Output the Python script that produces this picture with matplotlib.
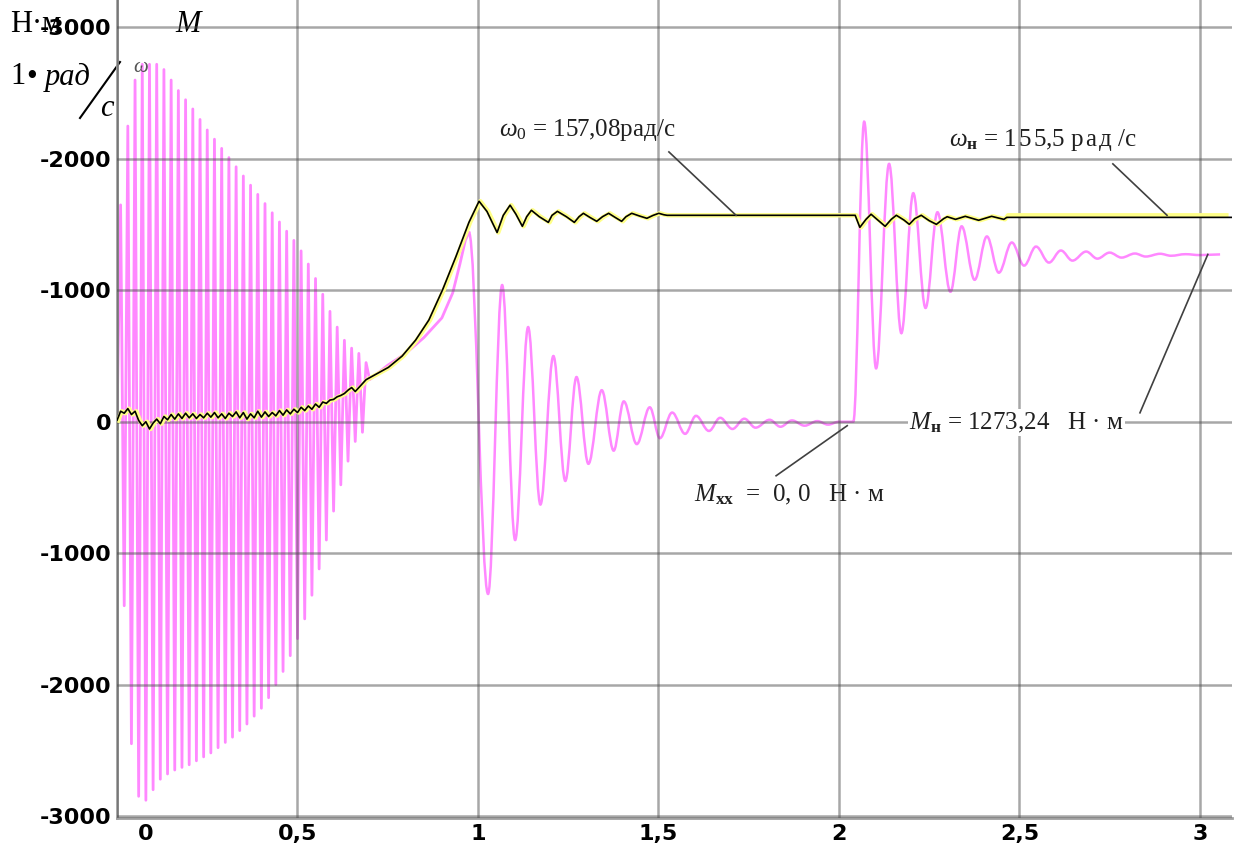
import numpy as np
import matplotlib
matplotlib.use("Agg")
import matplotlib.pyplot as plt
from matplotlib.path import Path
from matplotlib.patches import PathPatch
from matplotlib import transforms

plt.rcParams['mathtext.fontset'] = 'custom'
plt.rcParams['mathtext.rm'] = 'Liberation Serif'
plt.rcParams['mathtext.it'] = 'Liberation Serif:italic'
plt.rcParams['mathtext.bf'] = 'Liberation Serif:bold'

# --- момент M(t): пуск, 50 Гц колебания (экстремумы по полупериодам)
m_osc_t = [0.00, 0.01, 0.02, 0.03, 0.04, 0.05, 0.06, 0.07, 0.08, 0.09,
           0.10, 0.11, 0.12, 0.13, 0.14, 0.15, 0.16, 0.17, 0.18, 0.19,
           0.20, 0.21, 0.22, 0.23, 0.24, 0.25, 0.26, 0.27, 0.28, 0.29,
           0.30, 0.31, 0.32, 0.33, 0.34, 0.35, 0.36, 0.37, 0.38, 0.39,
           0.40, 0.41, 0.42, 0.43, 0.44, 0.45, 0.46, 0.47, 0.48, 0.49,
           0.50, 0.51, 0.52, 0.53, 0.54, 0.55, 0.56, 0.57, 0.58, 0.59,
           0.60, 0.61, 0.62, 0.63, 0.64, 0.65, 0.66, 0.67, 0.68, 0.69]
m_osc_v = [0, 1650, -1400, 2250, -2450, 2600, -2850, 2720, -2880, 2720,
           -2800, 2720, -2720, 2680, -2680, 2600, -2650, 2520, -2630, 2450,
           -2610, 2380, -2580, 2300, -2550, 2220, -2520, 2150, -2480, 2080,
           -2440, 2010, -2400, 1940, -2350, 1870, -2300, 1800, -2240, 1730,
           -2180, 1660, -2100, 1590, -2000, 1520, -1900, 1450, -1780, 1380,
           -1650, 1300, -1500, 1200, -1320, 1090, -1120, 970, -900, 840,
           -680, 720, -480, 620, -300, 560, -150, 520, -80, 450]

# разгон до максимума момента
m_rise_t = [0.70, 0.75, 0.80, 0.85, 0.90, 0.93, 0.95, 0.965, 0.975]
m_rise_v = [320, 430, 520, 640, 790, 980, 1200, 1380, 1440]

# затухающие колебания после разгона и после наброса нагрузки (экстремумы)
m_tr_t = [0.975, 1.028, 1.067, 1.103, 1.139, 1.173, 1.209, 1.242, 1.273, 1.306,
          1.343, 1.376, 1.404, 1.44, 1.476, 1.504, 1.538, 1.574, 1.604, 1.64,
          1.671, 1.705, 1.738, 1.769, 1.808, 1.838, 1.87, 1.905, 1.94, 1.97,
          2.00, 2.04, 2.07, 2.103, 2.139, 2.173, 2.206, 2.24, 2.273, 2.309,
          2.34, 2.376, 2.41, 2.443, 2.479, 2.513, 2.546, 2.582, 2.615, 2.647,
          2.685, 2.716, 2.75, 2.783, 2.82, 2.85, 2.89, 2.92, 2.96, 3.0, 3.056]
m_tr_v = [1440, -1310, 1040, -900, 720, -630, 500, -450, 340, -320,
          240, -220, 155, -170, 110, -125, 70, -92, 45, -70,
          30, -55, 23, -45, 15, -38, 10, -30, 5, -22,
          0, 0, 2283, 406, 1962, 674, 1739, 866, 1594, 989,
          1487, 1080, 1410, 1134, 1364, 1188, 1333, 1211, 1303, 1226,
          1295, 1241, 1287, 1249, 1280, 1257, 1278, 1263, 1275, 1268, 1273.24]

# --- скорость (x10)
w_t = [0.00, 0.01, 0.02, 0.03, 0.04, 0.05, 0.06, 0.07, 0.08, 0.09,
       0.10, 0.11, 0.12, 0.13, 0.14, 0.15, 0.16, 0.17, 0.18, 0.19,
       0.20, 0.21, 0.22, 0.23, 0.24, 0.25, 0.26, 0.27, 0.28, 0.29,
       0.30, 0.31, 0.32, 0.33, 0.34, 0.35, 0.36, 0.37, 0.38, 0.39,
       0.40, 0.41, 0.42, 0.43, 0.44, 0.45, 0.46, 0.47, 0.48, 0.49,
       0.50, 0.51, 0.52, 0.53, 0.54, 0.55, 0.56, 0.57, 0.58, 0.59,
       0.60, 0.61, 0.62, 0.63, 0.64, 0.65, 0.66, 0.69, 0.752, 0.79,
       0.827, 0.864, 0.902, 0.939, 0.975, 1.003, 1.025, 1.053, 1.07, 1.089,
       1.105, 1.123, 1.135, 1.148, 1.17, 1.195, 1.205, 1.22, 1.245, 1.267,
       1.28, 1.292, 1.31, 1.329, 1.345, 1.362, 1.38, 1.398, 1.41, 1.426,
       1.448, 1.468, 1.485, 1.501, 1.515, 1.524, 2.045, 2.058, 2.075, 2.089,
       2.11, 2.128, 2.145, 2.159, 2.18, 2.195, 2.21, 2.228, 2.25, 2.27,
       2.29, 2.30, 2.323, 2.35, 2.387, 2.423, 2.457]
w_v = [10, 80, 65, 100, 55, 80, 10, -30, 0, -55,
       -10, 20, -15, 40, 15, 55, 20, 60, 25, 65,
       30, 60, 25, 55, 30, 65, 35, 70, 30, 60,
       25, 65, 40, 75, 30, 70, 20, 60, 30, 80,
       35, 75, 40, 70, 45, 85, 50, 90, 60, 95,
       70, 110, 85, 120, 95, 135, 110, 150, 140, 165,
       170, 190, 200, 215, 240, 260, 230, 320, 414, 500,
       620, 774, 1004, 1257, 1517, 1678, 1600, 1440, 1570, 1648,
       1580, 1487, 1560, 1609, 1560, 1517, 1570, 1601, 1560, 1517,
       1560, 1586, 1555, 1525, 1560, 1586, 1555, 1525, 1560, 1586,
       1565, 1548, 1570, 1586, 1575, 1570.8, 1570.8, 1479, 1540, 1579,
       1530, 1487, 1540, 1571, 1535, 1502, 1545, 1571, 1530, 1502,
       1545, 1560, 1540, 1563, 1533, 1563, 1540]
w0 = 157.08
w_nom = 155.5
w_scale = 10

x_ticks = [0, 0.5, 1, 1.5, 2, 2.5, 3]
x_labels = ['0', '0,5', '1', '1,5', '2', '2,5', '3']
y_ticks = [-3000, -2000, -1000, 0, 1000, 2000, 3000]
y_labels = ['-3000', '-2000', '-1000', '0', '-1000', '-2000', '-3000']


def wave_path(ts, vs, k=0.36):
    # кубические кривые Безье между соседними экстремумами (горизонтальные касательные)
    verts = [(ts[0], vs[0])]
    codes = [Path.MOVETO]
    for i in range(1, len(ts)):
        dt = ts[i] - ts[i - 1]
        verts += [(ts[i - 1] + k * dt, vs[i - 1]), (ts[i] - k * dt, vs[i]), (ts[i], vs[i])]
        codes += [Path.CURVE4] * 3
    return Path(verts, codes)


fig = plt.figure(figsize=(12.36, 8.52), dpi=100)
ax = fig.add_axes([117 / 1236, 34 / 852, 1 - 117 / 1236 - 4 / 1236, 1 - 34 / 852])
ax.set_xlim(0, 3.089)
ax.set_ylim(-3015, 3209)

pink = '#ff88ff'
ax.plot(m_osc_t + m_rise_t, m_osc_v + m_rise_v, color=pink, lw=2.0, zorder=2)
ax.add_patch(PathPatch(wave_path(m_tr_t, m_tr_v), fill=False, edgecolor=pink, lw=1.8, zorder=2))

# скорость: жёлтая подложка и чёрная линия
w_black_t = w_t + [2.465, 3.089]
w_black_v = w_v + [w_nom * w_scale, w_nom * w_scale]
w_yel_t = w_t + [2.465, 3.07]
w_yel_v = w_v + [w0 * w_scale, w0 * w_scale]
shift = transforms.offset_copy(ax.transData, fig=fig, x=1.2, y=0, units='dots')
ax.plot(w_yel_t, w_yel_v, color='#ffff88', lw=3.2, zorder=3, transform=shift)
ax.plot(w_black_t, w_black_v, color='black', lw=1.2, zorder=4)

# сетка поверх кривых
ax.set_xticks(x_ticks)
ax.set_yticks(y_ticks)
ax.grid(True, color='#505050', alpha=0.5, lw=1.8, zorder=5)
ax.set_axisbelow(False)
for s in ['top', 'right']:
    ax.spines[s].set_visible(False)
for s in ['left', 'bottom']:
    ax.spines[s].set_color('#a0a0a0')
    ax.spines[s].set_linewidth(2)
ax.tick_params(length=0, pad=4)
ax.set_xticklabels(x_labels, fontfamily='DejaVu Sans', fontweight='bold', fontsize=16)
ax.set_yticklabels(y_labels, fontfamily='DejaVu Sans', fontweight='bold', fontsize=16)
ax.xaxis.get_ticklabels()[0].set_transform(
    ax.xaxis.get_ticklabels()[0].get_transform()
    + transforms.ScaledTranslation(0.29, 0, fig.dpi_scale_trans))

# подписи значений
hs = '\u200a'
txt = dict(fontfamily=['Liberation Serif', 'DejaVu Serif'], fontsize=18, color='#202020', zorder=7)
lead = dict(color='#404040', lw=1.2, zorder=6)
ax.text(1.057, 2220, r'$\it{\omega}_0$ = 157,08рад/с', ha='left', va='center', **txt)
ax.plot([1.529, 1.715], [2053, w0 * w_scale], **lead)
ax.text(2.306, 2144, r'$\it{\omega}_{\mathbf{н}}$ = ' + hs.join('155') + ',5 ' + hs.join('рад') + ' /с',
        ha='left', va='center', **txt)
ax.plot([2.759, 2.909], [1962, w0 * w_scale], **lead)
ax.text(1.599, -555, r'$\it{M}_{\mathbf{хх}}$  =  0, 0   Н · м', ha='left', va='center', **txt)
ax.plot([1.826, 2.023], [-411, -30], **lead)
ax.text(2.195, -8, r'$\it{M}_{\mathbf{н}}$ = 1273,24   Н · м', ha='left', va='center',
        bbox=dict(facecolor='white', edgecolor='none', pad=1), **txt)
ax.plot([2.834, 3.022], [68, m_tr_v[-1]], **lead)

# обозначения осей в левом верхнем углу
ft = fig.transFigure
lab = dict(fontfamily='Liberation Serif', fontsize=22, color='black', transform=ft,
           clip_on=False, zorder=0.5)
ax.text(10 / 1236, 1 - 25 / 852, 'Н·м', ha='left', va='center', **lab)
ax.text(175 / 1236, 1 - 25 / 852, 'M', ha='left', va='center', style='italic', **lab)
ax.text(10 / 1236, 1 - 77 / 852, '1', ha='left', va='center', **lab)
ax.text(26 / 1236, 1 - 77 / 852, '•', ha='left', va='center', **lab)
ax.text(45 / 1236, 1 - 77 / 852, 'рад', ha='left', va='center', style='italic', **lab)
ax.text(100 / 1236, 1 - 108 / 852, 'c', ha='left', va='center', style='italic', **lab)
ax.text(133 / 1236, 1 - 68 / 852, 'ω', ha='left', va='center', style='italic',
        fontfamily='Liberation Serif', fontsize=15, color='#555555', transform=ft)
ax.plot([80 / 1236, 120 / 1236], [1 - 118 / 852, 1 - 62 / 852], color='black', lw=1.5,
        transform=ft, clip_on=False)

fig.savefig('out.png', dpi=100)
